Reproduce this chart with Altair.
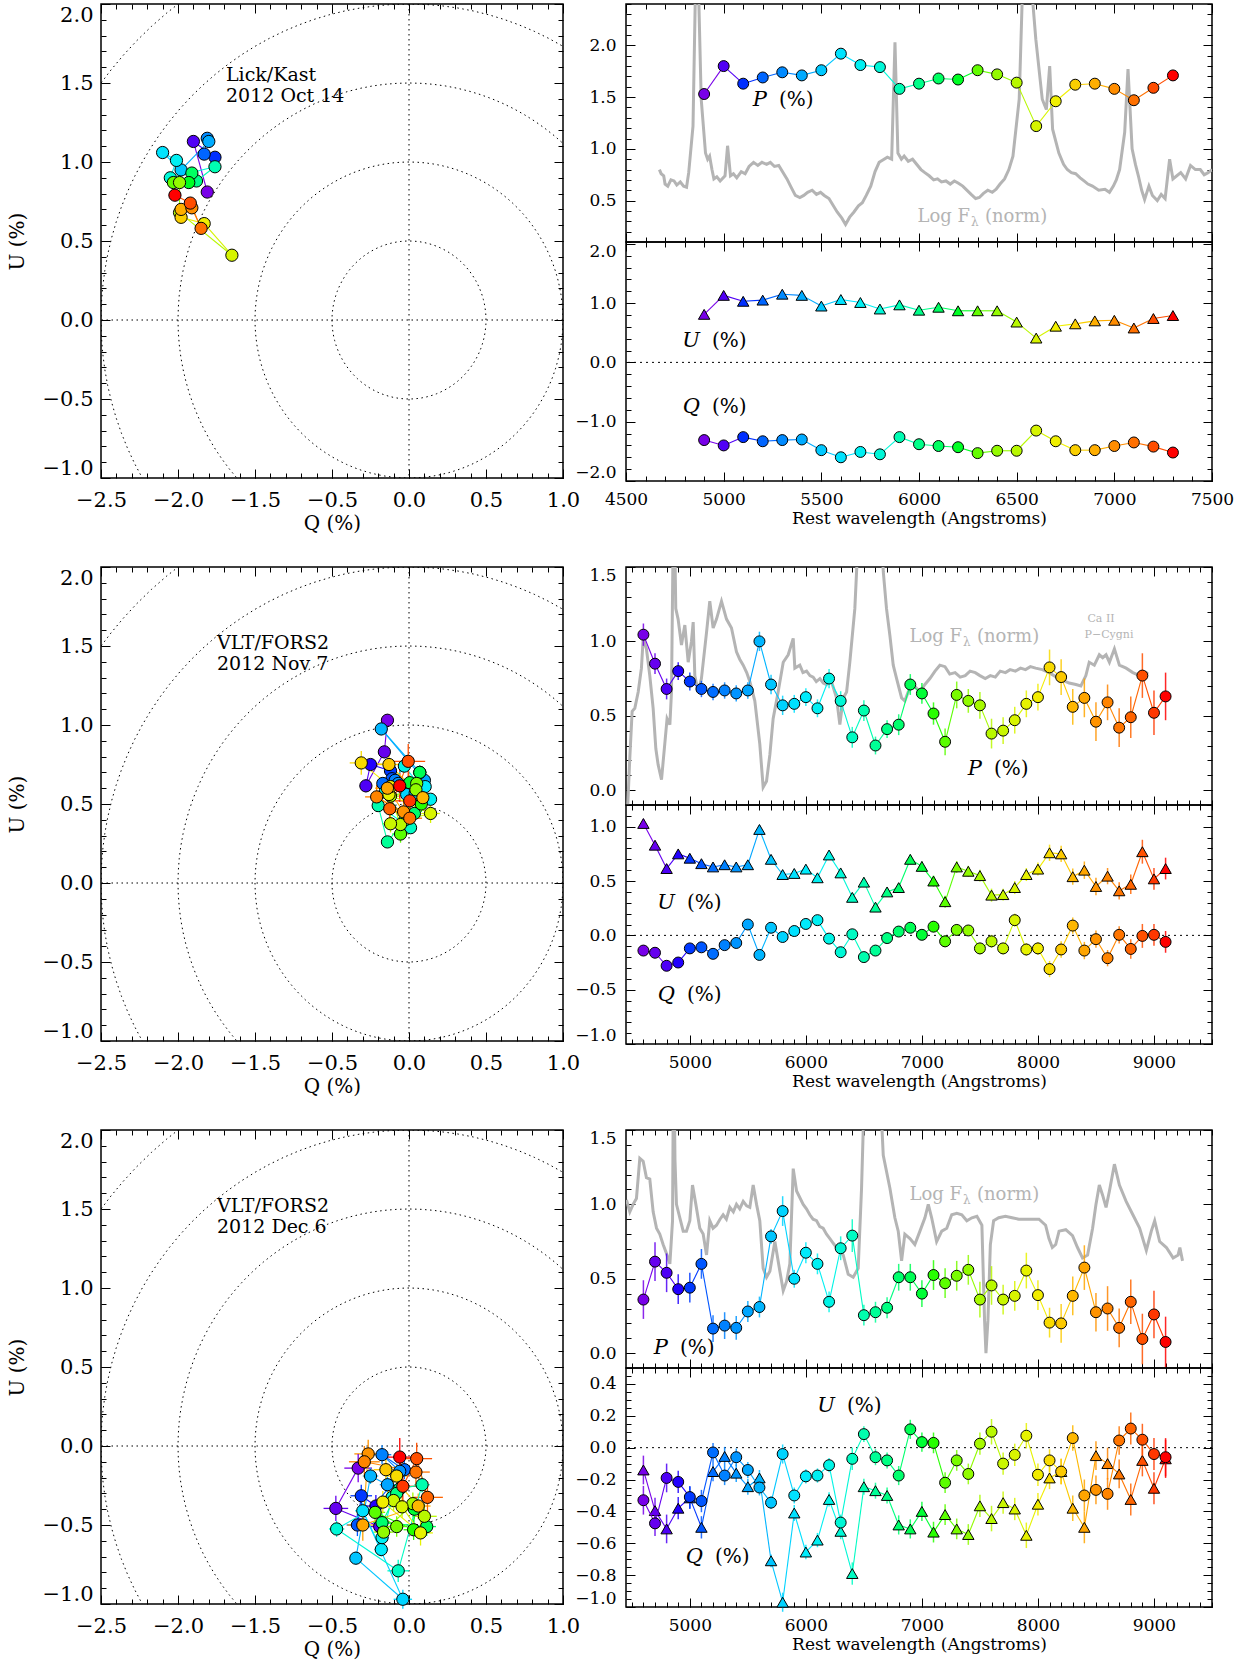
import altair as alt
import pandas as pd

FONT = "DejaVu Serif"
GRAY = "#b4b4b4"
C_STOPS = [0.0, 0.07, 0.30, 0.45, 0.55, 0.75, 0.87, 1.0]
C_RANGE = ["#7800e8", "#1400ff", "#00e8ff", "#00ff90", "#00ff00", "#f0f000", "#ff9000", "#ff0000"]

# ---------------- Row 1: Lick/Kast 2012 Oct 14 ----------------
WL1 = [4900, 5000, 5100, 5200, 5300, 5400, 5500, 5600, 5700, 5800, 5900, 6000, 6100,
       6200, 6300, 6400, 6500, 6600, 6700, 6800, 6900, 7000, 7100, 7200, 7300]
P1 = [1.53, 1.80, 1.63, 1.69, 1.74, 1.71, 1.76, 1.92, 1.81, 1.79, 1.58, 1.63, 1.68,
      1.67, 1.76, 1.72, 1.64, 1.22, 1.46, 1.62, 1.63, 1.58, 1.47, 1.59, 1.71]
U1 = [0.81, 1.13, 1.03, 1.05, 1.15, 1.13, 0.95, 1.06, 1.01, 0.90, 0.97, 0.88, 0.93,
      0.87, 0.87, 0.87, 0.68, 0.41, 0.61, 0.65, 0.70, 0.71, 0.58, 0.74, 0.79]
Q1 = [-1.31, -1.40, -1.26, -1.33, -1.31, -1.30, -1.48, -1.60, -1.51, -1.55, -1.26, -1.38, -1.41,
      -1.43, -1.53, -1.49, -1.49, -1.15, -1.33, -1.48, -1.48, -1.41, -1.35, -1.42, -1.52]
FLUX1 = [(4671, 0.80), (4680, 0.76), (4693, 0.74), (4700, 0.66), (4714, 0.64), (4730, 0.70),
         (4746, 0.69), (4760, 0.65), (4778, 0.68), (4795, 0.64), (4810, 0.63),
         (4821, 0.77), (4843, 1.22), (4858, 2.8), (4868, 2.8), (4885, 1.48), (4907, 0.96),
         (4918, 0.90), (4928, 0.93), (4940, 0.80), (4950, 0.71), (4965, 0.73), (4982, 0.69),
         (5007, 0.74), (5020, 1.03), (5035, 0.74), (5050, 0.76),
         (5067, 0.72), (5090, 0.78), (5110, 0.76), (5130, 0.83), (5153, 0.87), (5175, 0.84),
         (5196, 0.87), (5220, 0.85), (5239, 0.87), (5260, 0.83), (5282, 0.84),
         (5324, 0.71), (5345, 0.63), (5367, 0.55), (5390, 0.53), (5410, 0.55), (5430, 0.58),
         (5453, 0.60), (5475, 0.56), (5496, 0.58), (5515, 0.55), (5539, 0.52),
         (5581, 0.39), (5605, 0.33), (5624, 0.27), (5645, 0.34), (5667, 0.39), (5690, 0.45),
         (5710, 0.48), (5730, 0.55), (5753, 0.64), (5775, 0.78), (5796, 0.87),
         (5838, 0.92), (5860, 0.90), (5877, 2.03), (5892, 0.96), (5910, 0.90), (5924, 0.93),
         (5945, 0.88), (5967, 0.90),
         (6010, 0.80), (6030, 0.77), (6052, 0.74), (6075, 0.70), (6095, 0.71), (6115, 0.68),
         (6138, 0.69), (6160, 0.66), (6181, 0.69), (6200, 0.67), (6224, 0.64),
         (6267, 0.56), (6290, 0.52), (6309, 0.53), (6330, 0.57), (6352, 0.60), (6375, 0.58),
         (6395, 0.61), (6415, 0.66), (6438, 0.71), (6460, 0.80), (6481, 0.93),
         (6513, 1.48), (6534, 2.8), (6566, 2.8), (6598, 2.06), (6631, 1.48), (6652, 1.38),
         (6669, 1.80), (6684, 1.19), (6716, 0.96), (6740, 0.85), (6759, 0.80), (6780, 0.77),
         (6802, 0.76), (6825, 0.72), (6845, 0.69), (6865, 0.66),
         (6888, 0.64), (6920, 0.60), (6952, 0.61), (6975, 0.58), (6995, 0.64), (7010, 0.70),
         (7027, 0.80), (7053, 1.16), (7070, 1.77),
         (7091, 1.00), (7108, 0.85), (7123, 0.74), (7140, 0.60), (7155, 0.51), (7165, 0.57),
         (7177, 0.64), (7195, 0.55), (7220, 0.50), (7240, 0.56), (7260, 0.52),
         (7283, 0.90), (7300, 0.71), (7320, 0.74), (7340, 0.77), (7365, 0.71), (7390, 0.84),
         (7415, 0.80), (7440, 0.80), (7460, 0.75), (7480, 0.77), (7500, 0.80)]

# ---------------- Row 2: VLT/FORS2 2012 Nov 7 ----------------
WL2 = [4600, 4700, 4800, 4900, 5000, 5100, 5200, 5300, 5400, 5500, 5600, 5700, 5800,
       5900, 6000, 6100, 6200, 6300, 6400, 6500, 6600, 6700, 6800, 6900, 7000, 7100,
       7200, 7300, 7400, 7500, 7600, 7700, 7800, 7900, 8000, 8100, 8200, 8300, 8400,
       8500, 8600, 8700, 8800, 8900, 9000, 9100]
P2 = [1.045, 0.85, 0.68, 0.80, 0.73, 0.68, 0.66, 0.67, 0.65, 0.67, 1.00, 0.71, 0.57,
      0.58, 0.625, 0.55, 0.75, 0.60, 0.355, 0.535, 0.30, 0.41, 0.44, 0.71, 0.65, 0.515,
      0.325, 0.64, 0.60, 0.57, 0.38, 0.40, 0.47, 0.58, 0.625, 0.825, 0.76, 0.56, 0.62,
      0.46, 0.59, 0.42, 0.49, 0.77, 0.52, 0.63]
U2 = [1.03, 0.83, 0.615, 0.75, 0.71, 0.66, 0.63, 0.65, 0.63, 0.65, 0.975, 0.70, 0.56,
      0.57, 0.61, 0.53, 0.74, 0.575, 0.35, 0.49, 0.26, 0.40, 0.44, 0.70, 0.635, 0.50,
      0.31, 0.63, 0.59, 0.55, 0.37, 0.375, 0.44, 0.56, 0.61, 0.76, 0.75, 0.54, 0.60,
      0.45, 0.545, 0.41, 0.47, 0.77, 0.52, 0.615]
Q2 = [-0.14, -0.16, -0.28, -0.25, -0.12, -0.11, -0.17, -0.09, -0.07, 0.10, -0.18, 0.07, -0.015,
      0.04, 0.105, 0.14, -0.03, -0.155, 0.01, -0.20, -0.14, -0.025, 0.035, 0.07, 0.005, 0.08,
      -0.055, 0.05, 0.045, -0.12, -0.055, -0.12, 0.14, -0.13, -0.12, -0.31, -0.13, 0.09, -0.14,
      -0.035, -0.21, 0.005, -0.125, -0.005, 0.005, -0.06]
EP2 = [0.075, 0.07, 0.07, 0.06, 0.06, 0.055, 0.055, 0.055, 0.055, 0.055, 0.065, 0.065, 0.065,
       0.06, 0.06, 0.06, 0.065, 0.065, 0.07, 0.07, 0.06, 0.06, 0.07, 0.07, 0.07, 0.075,
       0.09, 0.09, 0.08, 0.09, 0.10, 0.09, 0.09, 0.09, 0.09, 0.12, 0.12, 0.12, 0.13,
       0.13, 0.12, 0.13, 0.14, 0.15, 0.15, 0.16]
EQU2 = [0.04, 0.04, 0.04, 0.035, 0.035, 0.03, 0.03, 0.03, 0.03, 0.03, 0.04, 0.04, 0.04,
        0.035, 0.035, 0.035, 0.04, 0.04, 0.04, 0.04, 0.035, 0.035, 0.04, 0.045, 0.045, 0.05,
        0.055, 0.055, 0.05, 0.055, 0.06, 0.055, 0.06, 0.06, 0.06, 0.075, 0.075, 0.075, 0.08,
        0.08, 0.075, 0.08, 0.09, 0.11, 0.10, 0.10]
FLUX2 = [(4454, -0.3), (4483, 0.22), (4503, 0.53), (4526, 0.55), (4555, 0.66), (4583, 0.82),
         (4598, 1.02), (4626, 0.95), (4655, 0.77), (4684, 0.55), (4707, 0.28), (4727, 0.17),
         (4756, 0.07), (4784, 0.31), (4804, 0.48), (4828, 0.44), (4842, 0.66), (4855, 1.6),
         (4862, 2.0), (4870, 1.7), (4879, 1.22), (4899, 1.15), (4928, 0.975), (4957, 1.11),
         (4986, 0.86), (5014, 1.00), (5029, 1.13), (5043, 0.77), (5072, 0.66), (5100, 0.75),
         (5144, 1.06), (5172, 1.27), (5201, 1.09), (5230, 1.15), (5273, 1.27), (5316, 1.15),
         (5359, 1.09), (5402, 0.93), (5430, 0.88), (5460, 0.84), (5490, 0.79), (5517, 0.73),
         (5560, 0.60), (5603, 0.31),
         (5632, 0.02), (5661, 0.06), (5690, 0.24), (5718, 0.48), (5761, 0.66), (5805, 0.86),
         (5848, 0.91), (5891, 1.02), (5905, 0.82), (5948, 0.84), (5975, 0.79), (6006, 0.80),
         (6035, 0.77), (6063, 0.76), (6090, 0.73),
         (6121, 0.75), (6150, 0.72), (6178, 0.71), (6200, 0.74), (6221, 0.73), (6264, 0.62),
         (6293, 0.44), (6322, 0.62),
         (6351, 0.66), (6379, 0.86), (6422, 1.22), (6451, 1.7), (6494, 2.2), (6552, 2.4),
         (6638, 2.0), (6667, 1.47), (6695, 1.22), (6724, 1.04), (6753, 0.84), (6782, 0.75),
         (6825, 0.62), (6853, 0.60), (6882, 0.66), (6925, 0.71), (6983, 0.66), (7026, 0.71),
         (7069, 0.75), (7113, 0.80), (7155, 0.84), (7199, 0.83), (7240, 0.78), (7286, 0.79),
         (7330, 0.76), (7373, 0.77), (7415, 0.80), (7460, 0.79),
         (7500, 0.77), (7546, 0.75), (7590, 0.77), (7633, 0.76), (7675, 0.80), (7720, 0.79),
         (7760, 0.81), (7806, 0.80), (7850, 0.82), (7893, 0.81), (7935, 0.83), (7980, 0.82),
         (8038, 0.81), (8095, 0.79), (8182, 0.75), (8269, 0.72), (8327, 0.71), (8370, 0.70),
         (8413, 0.77), (8442, 0.86), (8486, 0.84), (8529, 0.91), (8558, 0.89), (8587, 0.91),
         (8616, 0.86), (8659, 0.95), (8702, 0.84), (8760, 0.82), (8818, 0.79), (8876, 0.77),
         (8934, 0.79), (8948, 0.78)]

# ---------------- Row 3: VLT/FORS2 2012 Dec 6 ----------------
WL3 = WL2
P3 = [0.36, 0.615, 0.54, 0.43, 0.44, 0.60, 0.165, 0.185, 0.17, 0.28, 0.31, 0.785, 0.955,
      0.50, 0.675, 0.60, 0.345, 0.705, 0.79, 0.255, 0.275, 0.305, 0.51, 0.51, 0.40, 0.525,
      0.47, 0.52, 0.56, 0.36, 0.455, 0.36, 0.385, 0.555, 0.39, 0.205, 0.20, 0.385, 0.575,
      0.275, 0.30, 0.17, 0.345, 0.095, 0.26, 0.075]
U3 = [-0.14, -0.395, -0.51, -0.38, -0.315, -0.50, -0.15, -0.055, -0.16, -0.245, -0.19, -0.71, -0.97,
      -0.41, -0.655, -0.58, -0.325, -0.525, -0.79, -0.245, -0.27, -0.30, -0.485, -0.51, -0.40, -0.53,
      -0.42, -0.51, -0.545, -0.365, -0.445, -0.345, -0.385, -0.55, -0.355, -0.19, -0.15, -0.38, -0.50,
      -0.05, -0.10, -0.165, -0.325, -0.08, -0.255, -0.07]
Q3 = [-0.33, -0.475, -0.19, -0.215, -0.31, -0.335, -0.03, -0.175, -0.06, -0.14, -0.25, -0.345, -0.04,
      -0.30, -0.18, -0.175, -0.11, -0.47, -0.07, 0.085, -0.06, -0.08, -0.175, 0.115, 0.035, 0.03,
      -0.22, -0.08, -0.165, 0.025, 0.10, -0.10, -0.045, 0.075, -0.17, -0.08, -0.15, 0.06, -0.30,
      -0.265, -0.29, 0.045, 0.12, 0.05, -0.04, -0.06]
EP3 = [0.13, 0.13, 0.13, 0.10, 0.10, 0.10, 0.09, 0.09, 0.08, 0.07, 0.07, 0.05, 0.10,
       0.06, 0.07, 0.07, 0.07, 0.08, 0.11, 0.07, 0.07, 0.07, 0.09, 0.09, 0.09, 0.10,
       0.10, 0.10, 0.10, 0.12, 0.13, 0.10, 0.10, 0.12, 0.10, 0.10, 0.13, 0.13, 0.15,
       0.13, 0.15, 0.13, 0.15, 0.17, 0.16, 0.17]
EQU3 = [0.09, 0.08, 0.09, 0.07, 0.07, 0.07, 0.06, 0.06, 0.055, 0.05, 0.05, 0.04, 0.06,
        0.05, 0.045, 0.045, 0.045, 0.05, 0.07, 0.05, 0.05, 0.05, 0.06, 0.06, 0.06, 0.065,
        0.065, 0.065, 0.065, 0.07, 0.08, 0.07, 0.07, 0.08, 0.07, 0.07, 0.08, 0.08, 0.10,
        0.09, 0.10, 0.09, 0.10, 0.10, 0.10, 0.12]
FLUX3 = [(4454, 1.03), (4483, 0.95), (4511, 1.00), (4540, 1.04), (4569, 1.31), (4598, 1.29),
         (4626, 1.18), (4655, 1.17), (4684, 0.95), (4713, 0.84), (4741, 0.80), (4770, 0.73),
         (4799, 0.67), (4828, 0.60), (4851, 0.89), (4858, 1.8), (4864, 1.9), (4872, 1.3),
         (4885, 1.00), (4914, 0.91), (4943, 0.82), (4971, 0.82), (5000, 0.89), (5023, 1.13),
         (5052, 1.00), (5086, 0.84), (5115, 0.80), (5144, 0.66), (5172, 0.89), (5200, 0.84),
         (5230, 0.86), (5260, 0.90),
         (5287, 0.93), (5315, 0.90), (5345, 0.98), (5375, 0.95), (5402, 1.00), (5430, 0.97),
         (5460, 1.02), (5490, 0.99), (5517, 0.98), (5546, 1.13),
         (5575, 1.00), (5603, 0.89), (5632, 0.57), (5661, 0.51), (5690, 0.55), (5733, 0.75),
         (5776, 0.55), (5805, 0.42), (5833, 0.48), (5862, 0.60), (5891, 1.24), (5920, 1.09),
         (5977, 1.00), (6005, 0.97), (6034, 0.93), (6062, 0.90), (6092, 0.89), (6120, 0.85),
         (6149, 0.84), (6178, 0.80), (6207, 0.77), (6235, 0.74), (6264, 0.71), (6293, 0.68),
         (6322, 0.66), (6365, 0.53), (6408, 0.51), (6451, 0.57), (6480, 1.11), (6509, 1.9),
         (6560, 2.2), (6638, 1.8), (6667, 1.33), (6724, 1.11), (6767, 0.91), (6796, 0.82),
         (6825, 0.62), (6853, 0.80), (6897, 0.77), (6939, 0.73), (6983, 0.82), (7026, 0.91),
         (7055, 1.00), (7084, 0.91), (7127, 0.75), (7171, 0.82), (7214, 0.84), (7257, 0.93),
         (7301, 0.94), (7344, 0.93), (7387, 0.89), (7431, 0.91), (7474, 0.92), (7517, 0.86),
         (7540, 0.22), (7552, 0.0), (7569, 0.22), (7590, 0.73), (7618, 0.89), (7662, 0.91),
         (7720, 0.92), (7777, 0.91), (7835, 0.90), (7893, 0.90), (7951, 0.90), (8009, 0.90),
         (8066, 0.86), (8095, 0.77), (8124, 0.71), (8153, 0.73), (8182, 0.82), (8240, 0.83),
         (8298, 0.79), (8341, 0.71), (8384, 0.64), (8428, 0.66), (8471, 0.84), (8500, 1.00),
         (8529, 1.13), (8558, 1.06), (8587, 0.98), (8616, 1.09), (8659, 1.27), (8702, 1.13),
         (8760, 1.02), (8818, 0.93), (8876, 0.84), (8934, 0.69), (8977, 0.82), (9006, 0.89),
         (9049, 0.75), (9107, 0.71), (9165, 0.64), (9208, 0.66), (9223, 0.71), (9246, 0.62)]

RADII = [0.5, 1.0, 1.5, 2.0, 2.5]
DEGREES = list(range(0, 361, 3))

# layout (pixels)
W_L, H_L = 462, 474
W_R, H_T, H_B = 586, 238, 239


def steps(a, b, step):
    n = int(round((b - a) / step))
    return [round(a + i * step, 4) for i in range(n + 1)]


def frame(wl, p, q, u, ep=None, equ=None):
    df = pd.DataFrame({"wl": wl, "p": p, "q": q, "u": u})
    df["t"] = (df["wl"] - df["wl"].min()) / (df["wl"].max() - df["wl"].min())
    for c in ("wl", "p", "q", "u"):
        df[c + "_n"] = df[c].shift(-1)
    if ep is not None:
        e = pd.Series(ep)
        df["p_lo"] = df["p"] - e
        df["p_hi"] = df["p"] + e
    if equ is not None:
        e = pd.Series(equ)
        for c in ("q", "u"):
            df[c + "_lo"] = df[c] - e
            df[c + "_hi"] = df[c] + e
    return df


def cscale():
    return alt.Scale(domain=C_STOPS, range=C_RANGE)


def mk_axis(orient, values, size, **kw):
    d = dict(orient=orient, values=values, tickSize=size, offset=-size, domain=False,
             grid=False, ticks=True, tickColor="black", tickWidth=1, labels=False, title=None)
    d.update(kw)
    return alt.Axis(**d)


def text_layer(txt, x, y, size=20, color="black", italic=False, align="left", dy=0, font=FONT):
    return alt.Chart(alt.Data(values=[{}])).mark_text(
        text=txt, font=font, fontSize=size, color=color, align=align, baseline="middle",
        fontStyle="italic" if italic else "normal", dy=dy
    ).encode(x=alt.value(x), y=alt.value(y))


def sym_label(letter, cx, cy):
    return [text_layer(letter, cx - 16, cy, size=21, italic=True, align="right"),
            text_layer("(%)", cx - 4, cy, size=20, align="left")]


def logf_label(cx, cy):
    return [text_layer("Log F", cx - 16, cy, size=18, color=GRAY, align="right"),
            text_layer("\u03bb", cx - 15, cy, size=12, color=GRAY, align="left", dy=5),
            text_layer("(norm)", cx - 1, cy, size=18, color=GRAY, align="left")]


def framed(layers, src, xf, yf, xs, ys, xmaj, xmin, ymaj, ymin, xlab, ylab, w, h):
    sets = [
        (mk_axis("bottom", xmaj, 9, **xlab), mk_axis("left", ymaj, 9, **ylab)),
        (mk_axis("top", xmaj, 9), mk_axis("right", ymaj, 9)),
        (mk_axis("bottom", xmin, 5), mk_axis("left", ymin, 5)),
        (mk_axis("top", xmin, 5), mk_axis("right", ymin, 5)),
    ]
    carriers = [alt.Chart(src).mark_point(opacity=0).encode(
        x=alt.X(f"{xf}:Q", scale=xs, axis=ax), y=alt.Y(f"{yf}:Q", scale=ys, axis=ay))
        for ax, ay in sets]
    return alt.layer(*layers, *carriers).resolve_axis(
        x="independent", y="independent").properties(width=w, height=h)


def ylab_right():
    return dict(labels=True, format=".1f", labelFont=FONT, labelFontSize=17, labelColor="black",
                labelPadding=10, labelFlush=8, labelOverlap=False)


XLAB_RIGHT = dict(labels=True, format="d", labelFont=FONT, labelFontSize=17, labelColor="black",
                  labelPadding=10, labelFlush=False, labelOverlap=False,
                  title="Rest wavelength (Angstroms)",
                  titleFont=FONT, titleFontSize=17, titleFontWeight="normal", titleColor="black",
                  titlePadding=3)

Q_LABELS = ("datum.value < -1.9 ? '\u22122.5' : datum.value < -1.4 ? '\u22122.0' : "
            "datum.value < -0.9 ? '\u22121.5' : format(datum.value, '.1f')")


def left_panel(df, errors, texts):
    xs = alt.Scale(domain=[-2.0, 1.0], nice=False, zero=False)
    ys = alt.Scale(domain=[-1.0, 2.0], nice=False, zero=False)
    circ = pd.DataFrame([(r, d) for r in RADII for d in DEGREES], columns=["r", "deg"])
    layers = [
        alt.Chart(circ).transform_calculate(
            cx="datum.r*cos(datum.deg*PI/180)", cy="datum.r*sin(datum.deg*PI/180)"
        ).mark_line(strokeDash=[1.5, 3.5], color="black", strokeWidth=1, clip=True).encode(
            x=alt.X("cx:Q", scale=xs, axis=None), y=alt.Y("cy:Q", scale=ys, axis=None),
            detail="r:N", order="deg:Q"),
        alt.Chart(alt.Data(values=[{}])).mark_rule(strokeDash=[1.5, 3.5], color="black").encode(
            x=alt.XDatum(0, scale=xs, axis=None)),
        alt.Chart(alt.Data(values=[{}])).mark_rule(strokeDash=[1.5, 3.5], color="black").encode(
            y=alt.YDatum(0, scale=ys, axis=None)),
    ]
    col = alt.Color("t:Q", scale=cscale(), legend=None)
    if errors:
        layers.append(alt.Chart(df).mark_rule(strokeWidth=1.3).encode(
            x=alt.X("q_lo:Q", scale=xs, axis=None), x2="q_hi:Q",
            y=alt.Y("u:Q", scale=ys, axis=None), color=col))
        layers.append(alt.Chart(df).mark_rule(strokeWidth=1.3).encode(
            x=alt.X("q:Q", scale=xs, axis=None),
            y=alt.Y("u_lo:Q", scale=ys, axis=None), y2="u_hi:Q", color=col))
    layers.append(alt.Chart(df).transform_filter("isValid(datum.q_n)").mark_rule(strokeWidth=1.1).encode(
        x=alt.X("q:Q", scale=xs, axis=None), y=alt.Y("u:Q", scale=ys, axis=None),
        x2="q_n:Q", y2="u_n:Q", color=col))
    layers.append(alt.Chart(df).mark_point(shape="circle", filled=True, size=150, stroke="black",
                                           strokeWidth=1, opacity=1).encode(
        x=alt.X("q:Q", scale=xs, axis=None), y=alt.Y("u:Q", scale=ys, axis=None),
        fill=alt.Fill("t:Q", scale=cscale(), legend=None)))
    layers += texts
    xlab = dict(labels=True, labelExpr=Q_LABELS, labelFont=FONT, labelFontSize=21, labelColor="black",
                labelPadding=11, labelFlush=False, labelOverlap=False, title="Q (%)", titleFont=FONT,
                titleFontSize=20, titleFontWeight="normal", titleColor="black", titlePadding=3)
    ylab = dict(labels=True, format=".1f", labelFont=FONT, labelFontSize=21, labelColor="black",
                labelPadding=8, labelFlush=8, labelOverlap=False, title="U (%)", titleFont=FONT,
                titleFontSize=20, titleFontWeight="normal", titleColor="black", titlePadding=15)
    return framed(layers, df, "q", "u", xs, ys, steps(-2.0, 1.0, 0.5), steps(-2.0, 1.0, 0.1),
                  steps(-1.0, 2.0, 0.5), steps(-1.0, 2.0, 0.1), xlab, ylab, W_L, H_L)


def top_panel(df, flux, errors, xdom, xmaj, xmin, ydom, ymaj, ymin, texts):
    xs = alt.Scale(domain=xdom, nice=False, zero=False)
    ys = alt.Scale(domain=ydom, nice=False, zero=False)
    fdf = pd.DataFrame(flux, columns=["wl", "f"])
    col = alt.Color("t:Q", scale=cscale(), legend=None)
    layers = [alt.Chart(fdf).mark_line(color=GRAY, strokeWidth=3, clip=True).encode(
        x=alt.X("wl:Q", scale=xs, axis=None), y=alt.Y("f:Q", scale=ys, axis=None))]
    layers += texts
    if errors:
        layers.append(alt.Chart(df).mark_rule(strokeWidth=1.5, opacity=0.85).encode(
            x=alt.X("wl:Q", scale=xs, axis=None), y=alt.Y("p_lo:Q", scale=ys, axis=None),
            y2="p_hi:Q", color=col))
    layers.append(alt.Chart(df).transform_filter("isValid(datum.p_n)").mark_rule(strokeWidth=1.1).encode(
        x=alt.X("wl:Q", scale=xs, axis=None), y=alt.Y("p:Q", scale=ys, axis=None),
        x2="wl_n:Q", y2="p_n:Q", color=col))
    layers.append(alt.Chart(df).mark_point(shape="circle", filled=True, size=120, stroke="black",
                                           strokeWidth=1, opacity=1).encode(
        x=alt.X("wl:Q", scale=xs, axis=None), y=alt.Y("p:Q", scale=ys, axis=None),
        fill=alt.Fill("t:Q", scale=cscale(), legend=None)))
    return framed(layers, df, "wl", "p", xs, ys, xmaj, xmin, ymaj, ymin, {}, ylab_right(), W_R, H_T)


def bottom_panel(df, errors, xdom, xmaj, xmin, ydom, ymaj, ymin, texts):
    xs = alt.Scale(domain=xdom, nice=False, zero=False)
    ys = alt.Scale(domain=ydom, nice=False, zero=False)
    col = alt.Color("t:Q", scale=cscale(), legend=None)
    layers = [alt.Chart(alt.Data(values=[{}])).mark_rule(strokeDash=[2, 4], color="black").encode(
        y=alt.YDatum(0, scale=ys, axis=None))]
    layers += texts
    for f, shape, size in (("u", "triangle-up", 130), ("q", "circle", 120)):
        if errors:
            layers.append(alt.Chart(df).mark_rule(strokeWidth=1.5, opacity=0.85).encode(
                x=alt.X("wl:Q", scale=xs, axis=None), y=alt.Y(f"{f}_lo:Q", scale=ys, axis=None),
                y2=f"{f}_hi:Q", color=col))
        layers.append(alt.Chart(df).transform_filter(f"isValid(datum.{f}_n)").mark_rule(strokeWidth=1.1).encode(
            x=alt.X("wl:Q", scale=xs, axis=None), y=alt.Y(f"{f}:Q", scale=ys, axis=None),
            x2="wl_n:Q", y2=f"{f}_n:Q", color=col))
        layers.append(alt.Chart(df).mark_point(shape=shape, filled=True, size=size, stroke="black",
                                               strokeWidth=1, opacity=1).encode(
            x=alt.X("wl:Q", scale=xs, axis=None), y=alt.Y(f"{f}:Q", scale=ys, axis=None),
            fill=alt.Fill("t:Q", scale=cscale(), legend=None)))
    return framed(layers, df, "wl", "q", xs, ys, xmaj, xmin, ymaj, ymin, XLAB_RIGHT, ylab_right(), W_R, H_B)


df1 = frame(WL1, P1, Q1, U1)
df2 = frame(WL2, P2, Q2, U2, EP2, EQU2)
df3 = frame(WL3, P3, Q3, U3, EP3, EQU3)

X1 = [4500, 7500]
X1MAJ = steps(4500, 7500, 500)
X1MIN = steps(4500, 7500, 100)
X2 = [4450, 9500]
X2MAJ = steps(5000, 9000, 1000)
X2MIN = steps(4500, 9500, 100)

row1 = alt.hconcat(
    left_panel(df1, False, [text_layer("Lick/Kast", 125, 71, size=19),
                            text_layer("2012 Oct 14", 125, 92, size=19)]),
    alt.vconcat(
        top_panel(df1, FLUX1, False, X1, X1MAJ, X1MIN, [0.1, 2.4], steps(0.5, 2.0, 0.5),
                  steps(0.1, 2.4, 0.1), sym_label("P", 157, 96) + logf_label(360, 213)),
        bottom_panel(df1, False, X1, X1MAJ, X1MIN, [-2.0, 2.03], steps(-2.0, 2.0, 1.0),
                     steps(-2.0, 2.0, 0.2), sym_label("U", 90, 99) + sym_label("Q", 90, 165)),
        spacing=0, bounds="flush"),
    spacing=63, bounds="flush")

row2 = alt.hconcat(
    left_panel(df2, True, [text_layer("VLT/FORS2", 116, 76, size=19),
                           text_layer("2012 Nov 7", 116, 97, size=19)]),
    alt.vconcat(
        top_panel(df2, FLUX2, True, X2, X2MAJ, X2MIN, [-0.1, 1.5], steps(0.0, 1.5, 0.5),
                  steps(-0.1, 1.5, 0.1),
                  sym_label("P", 372, 202) + logf_label(352, 70)
                  + [text_layer("Ca II", 475, 52, size=11, color=GRAY, align="center"),
                     text_layer("P\u2212Cygni", 483, 68, size=11, color=GRAY, align="center")]),
        bottom_panel(df2, True, X2, X2MAJ, X2MIN, [-1.0, 1.2], steps(-1.0, 1.0, 0.5),
                     steps(-1.0, 1.2, 0.1), sym_label("U", 65, 98) + sym_label("Q", 65, 190)),
        spacing=0, bounds="flush"),
    spacing=63, bounds="flush")

row3 = alt.hconcat(
    left_panel(df3, True, [text_layer("VLT/FORS2", 116, 76, size=19),
                           text_layer("2012 Dec 6", 116, 97, size=19)]),
    alt.vconcat(
        top_panel(df3, FLUX3, True, X2, X2MAJ, X2MIN, [-0.1, 1.5], steps(0.0, 1.5, 0.5),
                  steps(-0.1, 1.5, 0.1), sym_label("P", 58, 218) + logf_label(352, 65)),
        bottom_panel(df3, True, X2, X2MAJ, X2MIN, [-1.0, 0.5], steps(-1.0, 0.4, 0.2),
                     steps(-1.0, 0.5, 0.05), sym_label("U", 225, 38) + sym_label("Q", 93, 189)),
        spacing=0, bounds="flush"),
    spacing=63, bounds="flush")

chart = alt.vconcat(row1, row2, row3, spacing=31).properties(
    padding={"left": 6, "top": 2, "right": 0, "bottom": 0}, background="white"
).configure_view(stroke="black", strokeWidth=1.5)

chart.save("out.html", embed_options={"renderer": "svg", "actions": False})
